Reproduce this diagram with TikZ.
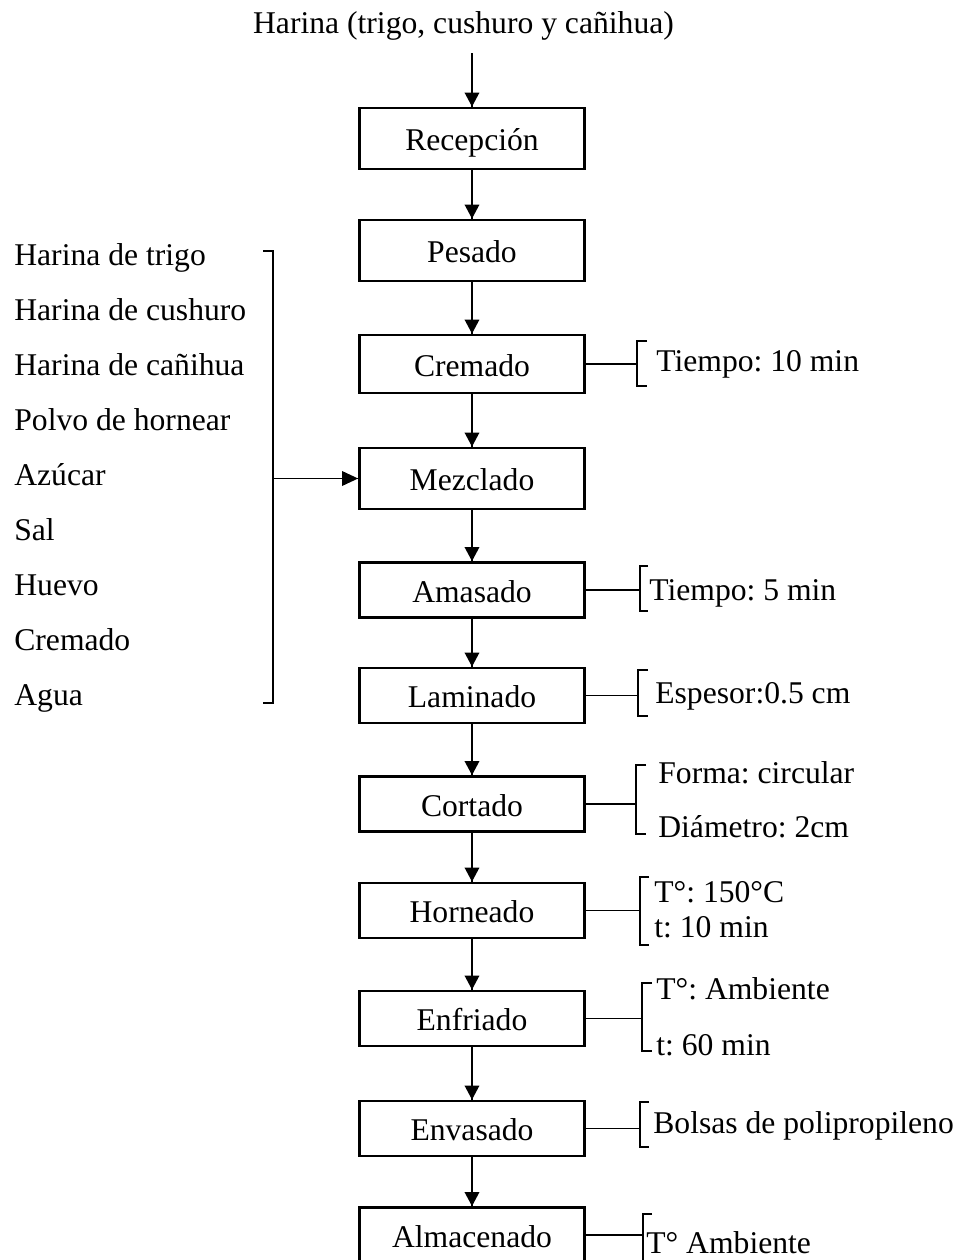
\documentclass[tikz,border=0pt]{standalone}
\usepackage{fontspec}
\setmainfont{Liberation Serif}
\usepackage{tikz}
\usetikzlibrary{calc}
\frenchspacing

\begin{document}
\begin{tikzpicture}[scale=0.2]
                \tikzstyle{every node}+=[inner sep=0pt, font=\fontsize{18}{22}\selectfont]
                \tikzstyle{etapa}=[draw=black, line width=1.6pt, minimum width=4.5cm, minimum height=1.1cm, text height=16pt, text depth=2pt]
                \tikzstyle{alta}=[minimum height=1.22cm]
                \tikzstyle{flecha}=[black, line width=0.9pt]
                \tikzstyle{llave}=[black, line width=0.7pt]
                \useasboundingbox (0,0) rectangle (96.3,-126);
                \draw (46.35,-3.3) node [anchor=base] (titulo) {Harina (trigo, cushuro y cañihua)};
                \coordinate (ent) at (47.2,-5.3);
                \draw (47.2,-13.85) node [etapa, alta] (rec) {Recepción};
                \draw (47.2,-25.05) node [etapa, alta] (pes) {Pesado};
                \draw (47.2,-36.4) node [etapa, minimum height=1.16cm] (cre) {Cremado};
                \draw (47.2,-47.85) node [etapa, alta] (mez) {Mezclado};
                \draw (47.2,-59.0) node [etapa] (ama) {Amasado};
                \draw (47.2,-69.55) node [etapa] (lam) {Laminado};
                \draw (47.2,-80.4) node [etapa] (cor) {Cortado};
                \draw (47.2,-91.05) node [etapa] (hor) {Horneado};
                \draw (47.2,-101.85) node [etapa] (enf) {Enfriado};
                \draw (47.2,-112.85) node [etapa] (env) {Envasado};
                \draw (47.2,-123.5) node [etapa] (alm) {Almacenado};
                \draw [flecha] (ent) -- (rec.north);
                \fill [black] (rec.north) -- ++(-0.75,1.4) -- ++(1.5,0);
                \draw [flecha] (rec.south) -- (pes.north);
                \fill [black] (pes.north) -- ++(-0.75,1.4) -- ++(1.5,0);
                \draw [flecha] (pes.south) -- (cre.north);
                \fill [black] (cre.north) -- ++(-0.75,1.4) -- ++(1.5,0);
                \draw [flecha] (cre.south) -- (mez.north);
                \fill [black] (mez.north) -- ++(-0.75,1.4) -- ++(1.5,0);
                \draw [flecha] (mez.south) -- (ama.north);
                \fill [black] (ama.north) -- ++(-0.75,1.4) -- ++(1.5,0);
                \draw [flecha] (ama.south) -- (lam.north);
                \fill [black] (lam.north) -- ++(-0.75,1.4) -- ++(1.5,0);
                \draw [flecha] (lam.south) -- (cor.north);
                \fill [black] (cor.north) -- ++(-0.75,1.4) -- ++(1.5,0);
                \draw [flecha] (cor.south) -- (hor.north);
                \fill [black] (hor.north) -- ++(-0.75,1.4) -- ++(1.5,0);
                \draw [flecha] (hor.south) -- (enf.north);
                \fill [black] (enf.north) -- ++(-0.75,1.4) -- ++(1.5,0);
                \draw [flecha] (enf.south) -- (env.north);
                \fill [black] (env.north) -- ++(-0.75,1.4) -- ++(1.5,0);
                \draw [flecha] (env.south) -- (alm.north);
                \fill [black] (alm.north) -- ++(-0.75,1.4) -- ++(1.5,0);
                \draw (1.4,-26.5) node [anchor=base west] (i1) {Harina de trigo};
                \draw (1.4,-32.0) node [anchor=base west] (i2) {Harina de cushuro};
                \draw (1.4,-37.5) node [anchor=base west] (i3) {Harina de cañihua};
                \draw (1.4,-43.0) node [anchor=base west] (i4) {Polvo de hornear};
                \draw (1.4,-48.5) node [anchor=base west] (i5) {Azúcar};
                \draw (1.4,-54.0) node [anchor=base west] (i6) {Sal};
                \draw (1.4,-59.5) node [anchor=base west] (i7) {Huevo};
                \draw (1.4,-65.0) node [anchor=base west] (i8) {Cremado};
                \draw (1.4,-70.5) node [anchor=base west] (i9) {Agua};
                \draw [llave] (26.3,-25.1) -- (27.3,-25.1) -- (27.3,-70.3) -- (26.3,-70.3);
                \coordinate (bizq) at (27.3,-47.7);
                \draw [flecha] (mez.west -| bizq) -- (mez.west);
                \fill [black] (mez.west) -- ++(-1.6,0.75) -- ++(0,-1.5);
                \coordinate (bcre) at (63.7,-36.2);
                \draw [llave] (cre.east) -- (cre.east -| bcre);
                \draw [llave] (64.7,-34.1) -- (63.7,-34.1) -- (63.7,-38.6) -- (64.7,-38.6);
                \draw (65.6,-37.1) node [anchor=base west] (tcre) {Tiempo: 10 min};
                \coordinate (bama) at (64.0,-59.0);
                \draw [llave] (ama.east) -- (ama.east -| bama);
                \draw [llave] (64.8,-56.6) -- (64.0,-56.6) -- (64.0,-61.1) -- (64.8,-61.1);
                \draw (64.9,-60.0) node [anchor=base west] (tama) {Tiempo: 5 min};
                \coordinate (blam) at (63.8,-69.3);
                \draw [llave] (lam.east) -- (lam.east -| blam);
                \draw [llave] (64.8,-67.0) -- (63.8,-67.0) -- (63.8,-71.6) -- (64.8,-71.6);
                \draw (65.5,-70.3) node [anchor=base west] (tlam) {Espesor:0.5 cm};
                \coordinate (bcor) at (63.6,-80.0);
                \draw [llave] (cor.east) -- (cor.east -| bcor);
                \draw [llave] (64.6,-76.5) -- (63.6,-76.5) -- (63.6,-83.4) -- (64.6,-83.4);
                \draw (65.8,-78.3) node [anchor=base west] (tcor1) {Forma: circular};
                \draw (65.8,-83.7) node [anchor=base west] (tcor2) {Diámetro: 2cm};
                \coordinate (bhor) at (64.0,-91.0);
                \draw [llave] (hor.east) -- (hor.east -| bhor);
                \draw [llave] (64.9,-87.7) -- (64.0,-87.7) -- (64.0,-94.5) -- (64.9,-94.5);
                \draw (65.4,-90.2) node [anchor=base west] (thor1) {T°: 150°C};
                \draw (65.4,-93.7) node [anchor=base west] (thor2) {t: 10 min};
                \coordinate (benf) at (64.2,-101.6);
                \draw [llave] (enf.east) -- (enf.east -| benf);
                \draw [llave] (65.2,-98.3) -- (64.2,-98.3) -- (64.2,-105.1) -- (65.2,-105.1);
                \draw (65.6,-99.9) node [anchor=base west] (tenf1) {T°: Ambiente};
                \draw (65.6,-105.5) node [anchor=base west] (tenf2) {t: 60 min};
                \coordinate (benv) at (64.0,-112.3);
                \draw [llave] (env.east) -- (env.east -| benv);
                \draw [llave] (64.9,-110.2) -- (64.0,-110.2) -- (64.0,-114.7) -- (64.9,-114.7);
                \draw (65.3,-113.3) node [anchor=base west] (tenv) {Bolsas de polipropileno};
                \coordinate (balm) at (64.3,-124.0);
                \draw [llave] (alm.east) -- (alm.east -| balm);
                \draw [llave] (65.2,-121.4) -- (64.3,-121.4) -- (64.3,-127);
                \draw (64.6,-125.3) node [anchor=base west] (talm) {T° Ambiente};
\end{tikzpicture}
\end{document}
